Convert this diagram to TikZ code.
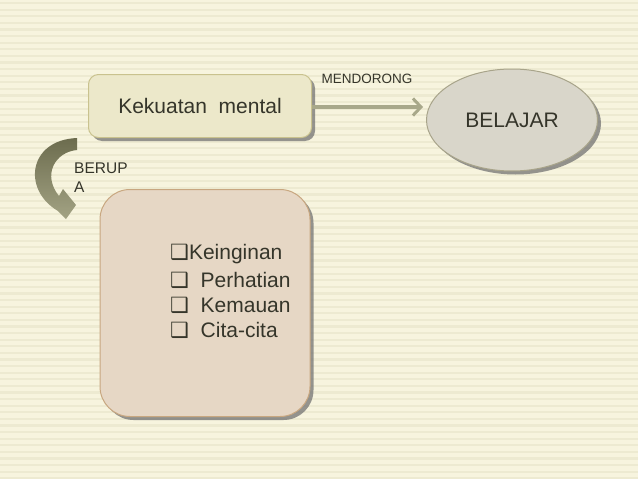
\documentclass[tikz,border=0pt]{standalone}
\usepackage{fontspec}
\setmainfont{Liberation Sans}
\newfontfamily\symfont{DejaVu Sans}
\usetikzlibrary{shapes.geometric,shadows,arrows.meta}
\definecolor{bgc}{HTML}{F7F4DE}
\definecolor{stripec}{HTML}{EDEAD1}
\definecolor{txtc}{HTML}{35352A}
\definecolor{box1fill}{HTML}{ECE8CA}
\definecolor{box1line}{HTML}{C9C28E}
\definecolor{ellfill}{HTML}{D9D6CA}
\definecolor{ellline}{HTML}{A8A48A}
\definecolor{box2fill}{HTML}{E6D7C5}
\definecolor{box2line}{HTML}{C8A780}
\definecolor{arrowc}{HTML}{A8A88A}
\definecolor{curvetop}{HTML}{6C6C4E}
\definecolor{curvebot}{HTML}{A3A384}
\tikzset{
  shad/.style={drop shadow={shadow xshift=3.5pt,shadow yshift=-3.5pt,fill=black!55,opacity=0.75}},
  mainbox/.style={draw=box1line,line width=1pt,fill=box1fill,rounded corners=10pt,shad,
    minimum width=223pt,minimum height=63pt,text=txtc,font=\fontsize{21}{25}\selectfont},
  ellnode/.style={ellipse,draw=ellline,line width=1pt,fill=ellfill,shad,
    minimum width=171pt,minimum height=102pt,text=txtc,font=\fontsize{21}{25}\selectfont},
  bigbox/.style={draw=box2line,line width=1pt,fill=box2fill,rounded corners=30pt,shad,
    minimum width=210pt,minimum height=227pt},
  lbl/.style={text=txtc,inner sep=0pt},
  listtxt/.style={text=txtc,inner sep=0pt,anchor=west,font=\fontsize{21}{25}\selectfont},
  mainarrow/.style={line width=4.5pt,draw=arrowc,-{Straight Barb[length=8pt,width=17pt,line width=3pt]}}
}
\newcommand{\cbx}{{\symfont\fontsize{21}{21}\selectfont ❑}}
\begin{document}
\begin{tikzpicture}[x=1pt,y=-1pt]
\fill[bgc] (0,0) rectangle (638,479);
\useasboundingbox (0,0) rectangle (638,479);
\foreach \i in {0,...,72} {
  \fill[stripec] (0,{2+\i*6.6}) rectangle (638,{4.2+\i*6.6});
}
% boxes
\node[mainbox] (km) at (200,106) {Kekuatan\ \ mental};
\node[ellnode] (bl) at (512,120) {BELAJAR};
\node[bigbox] (bb) at (205,303) {};
% main arrow
\coordinate (ae) at (423,107);
\draw[mainarrow] (km.east |- ae) -- (ae);
\node[lbl,font=\fontsize{13.5}{16}\selectfont] (md) at (367,79) {MENDORONG};
% curved arrow
\path[top color=curvetop,bottom color=curvebot,draw=none]
  (77,138) -- (77,150)
  .. controls (55,152) and (42,175) .. (59,196)
  -- (63,189) -- (76,205) -- (66,219) -- (58,211)
  .. controls (22,190) and (28,140) .. (77,138) -- cycle;
\node[lbl,anchor=north west,align=left,font=\fontsize{15.5}{19}\selectfont] (br) at (74,163) {BERUP\\A};
% list
\node[listtxt] (l1) at (170,254) {\cbx Keinginan};
\node[listtxt] (l2) at (170,280) {\cbx\ \ Perhatian};
\node[listtxt] (l3) at (170,305) {\cbx\ \ Kemauan};
\node[listtxt] (l4) at (170,330) {\cbx\ \ Cita-cita};
\end{tikzpicture}
\end{document}
